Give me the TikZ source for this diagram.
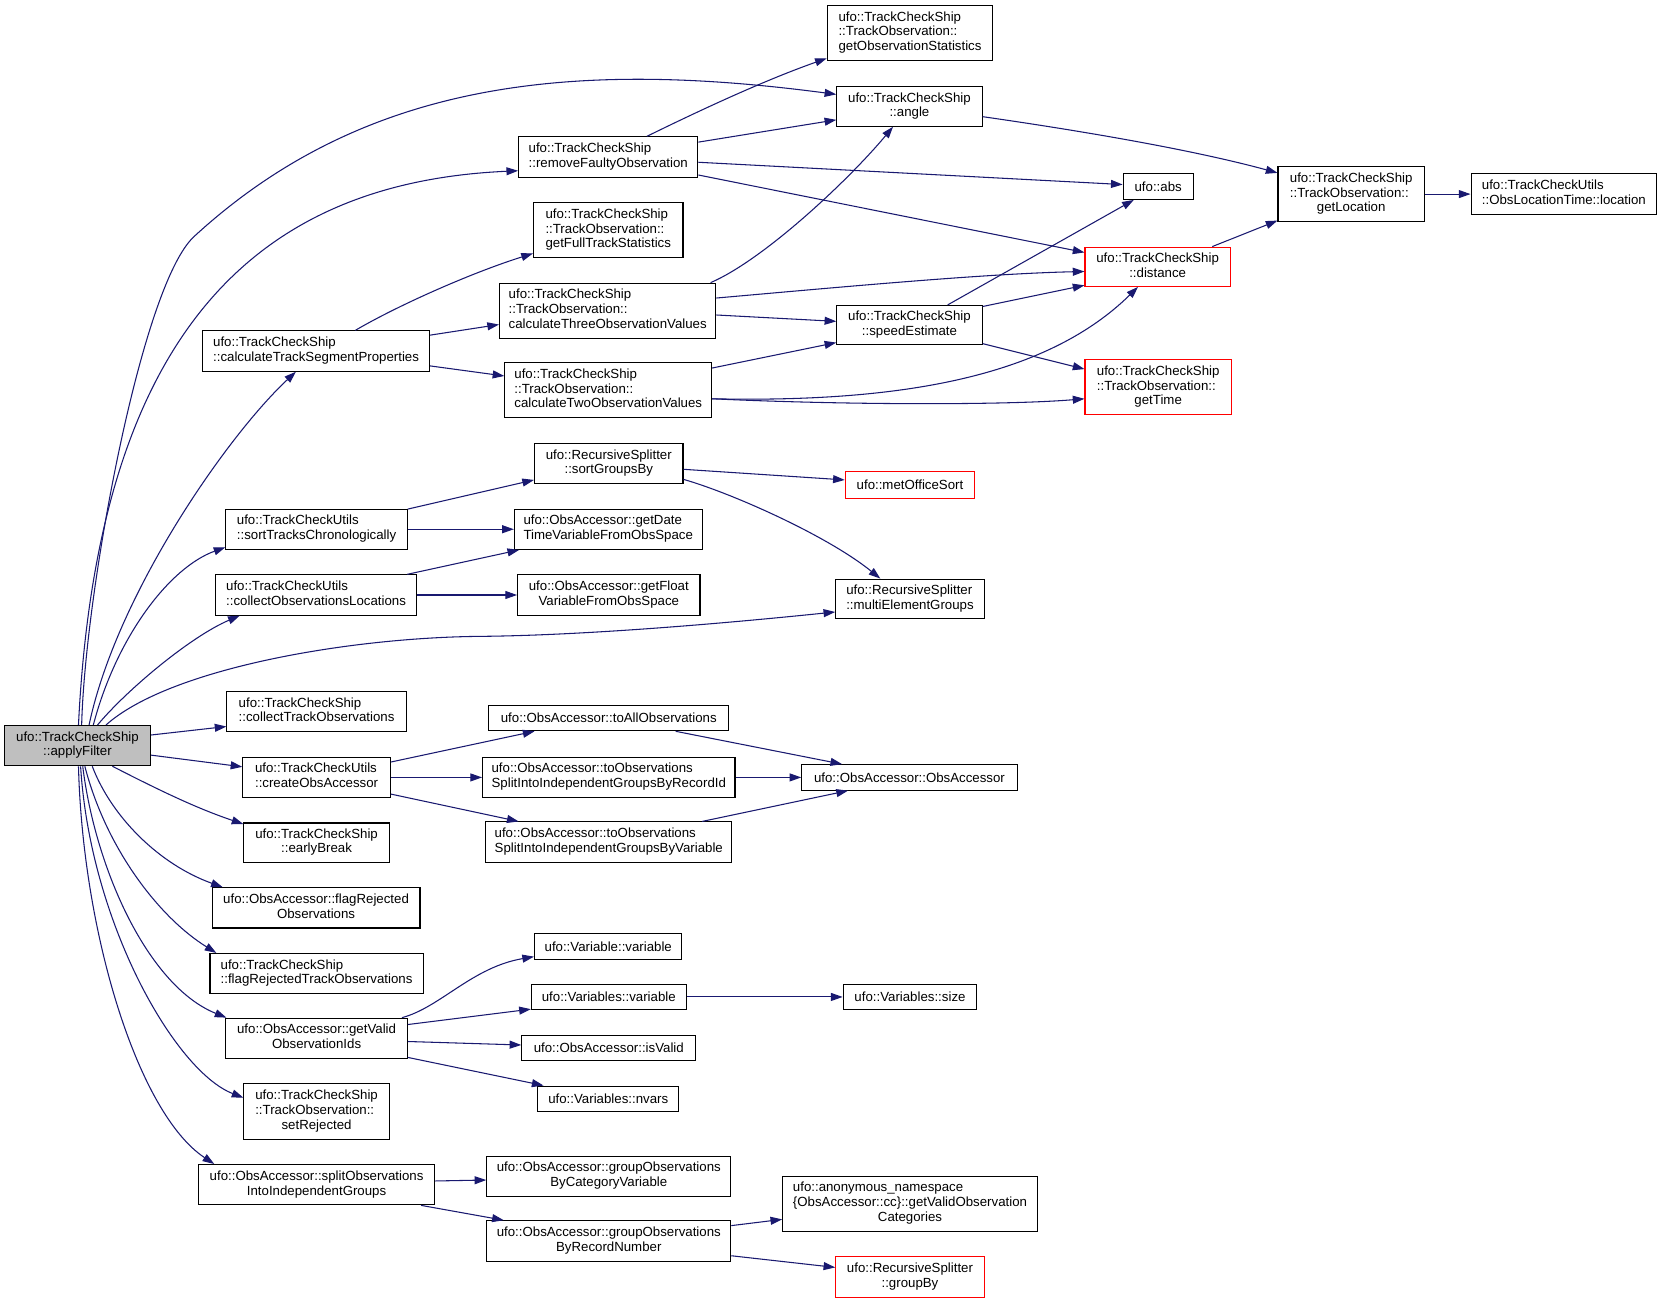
\documentclass[tikz,border=0pt]{standalone}
\usepackage{fontspec}
\setmainfont{Liberation Sans}
\usetikzlibrary{arrows.meta}
\definecolor{navyc}{RGB}{25,25,112}
\definecolor{boxgray}{RGB}{191,191,191}
\newcommand\twoL[2]{\begin{tabular}{@{}l@{}}#1\\\multicolumn{1}{@{}c@{}}{#2}\end{tabular}}
\newcommand\threeL[3]{\begin{tabular}{@{}l@{}}#1\\#2\\\multicolumn{1}{@{}c@{}}{#3}\end{tabular}}
\begin{document}
\begin{tikzpicture}[x=1pt,y=-1pt,
  fn/.style={draw=black, line width=1pt, rectangle, inner sep=0pt, fill=white, text=black, font=\fontsize{12.5}{13.9}\selectfont},
  redfn/.style={fn, draw=red},
  sz/.style 2 args={minimum width=#1pt, minimum height=#2pt},
  cl/.style={draw=navyc, line width=1pt, -{Triangle[length=11pt,width=7.5pt]}}]
\path[use as bounding box, fill=white] (0,0) rectangle (1568,1228.6);

% nodes
\node[fn,sz={138}{38},fill=boxgray] (af) at (73,703) {\twoL{ufo::TrackCheckShip}{::applyFilter}};
\node[fn,sz={156}{52}] (gos) at (858,31) {\threeL{ufo::TrackCheckShip}{::TrackObservation::}{getObservationStatistics}};
\node[fn,sz={137}{37}] (angle) at (857.5,100.5) {\twoL{ufo::TrackCheckShip}{::angle}};
\node[fn,sz={169}{38}] (rfo) at (573.5,148) {\twoL{ufo::TrackCheckShip}{::removeFaultyObservation}};
\node[fn,sz={141}{52}] (gfts) at (573.5,217) {\threeL{ufo::TrackCheckShip}{::TrackObservation::}{getFullTrackStatistics}};
\node[fn,sz={204}{52}] (c3) at (573,293) {\threeL{ufo::TrackCheckShip}{::TrackObservation::}{calculateThreeObservationValues}};
\node[fn,sz={66}{24}] (abs) at (1092,176) {ufo::abs};
\node[fn,sz={138}{52}] (gl) at (1274,183) {\threeL{ufo::TrackCheckShip}{::TrackObservation::}{getLocation}};
\node[fn,sz={175}{38}] (loc) at (1474.5,183) {\twoL{ufo::TrackCheckUtils}{::ObsLocationTime::location}};
\node[redfn,sz={137}{37}] (dist) at (1091.5,251.5) {\twoL{ufo::TrackCheckShip}{::distance}};
\node[fn,sz={214}{38}] (ctsp) at (298,331) {\twoL{ufo::TrackCheckShip}{::calculateTrackSegmentProperties}};
\node[fn,sz={195}{52}] (c2) at (573.5,368) {\threeL{ufo::TrackCheckShip}{::TrackObservation::}{calculateTwoObservationValues}};
\node[fn,sz={137}{37}] (se) at (857.5,306.5) {\twoL{ufo::TrackCheckShip}{::speedEstimate}};
\node[redfn,sz={138}{52}] (gt) at (1092,365) {\threeL{ufo::TrackCheckShip}{::TrackObservation::}{getTime}};
\node[fn,sz={140}{38}] (sgb) at (574,437) {\twoL{ufo::RecursiveSplitter}{::sortGroupsBy}};
\node[redfn,sz={122}{25}] (mos) at (858,457.5) {ufo::metOfficeSort};
\node[fn,sz={171}{38}] (stc) at (298.5,499) {\twoL{ufo::TrackCheckUtils}{::sortTracksChronologically}};
\node[fn,sz={177}{38}] (gdt) at (573.5,499) {\twoL{ufo::ObsAccessor::getDate}{TimeVariableFromObsSpace}};
\node[fn,sz={190}{38}] (col) at (298,561) {\twoL{ufo::TrackCheckUtils}{::collectObservationsLocations}};
\node[fn,sz={172}{38}] (gfv) at (574,561) {\twoL{ufo::ObsAccessor::getFloat}{VariableFromObsSpace}};
\node[fn,sz={140}{37}] (meg) at (858,564.5) {\twoL{ufo::RecursiveSplitter}{::multiElementGroups}};
\node[fn,sz={169}{38}] (cto) at (298.5,671) {\twoL{ufo::TrackCheckShip}{::collectTrackObservations}};
\node[fn,sz={139}{38}] (coa) at (298.5,733) {\twoL{ufo::TrackCheckUtils}{::createObsAccessor}};
\node[fn,sz={137}{37}] (eb) at (298.5,794.5) {\twoL{ufo::TrackCheckShip}{::earlyBreak}};
\node[fn,sz={196}{38}] (fro) at (298,856) {\twoL{ufo::ObsAccessor::flagRejected}{Observations}};
\node[fn,sz={201}{38}] (frto) at (298.5,918) {\twoL{ufo::TrackCheckShip}{::flagRejectedTrackObservations}};
\node[fn,sz={171}{38}] (gvo) at (298.5,979) {\twoL{ufo::ObsAccessor::getValid}{ObservationIds}};
\node[fn,sz={137}{52}] (sr) at (298.5,1048) {\threeL{ufo::TrackCheckShip}{::TrackObservation::}{setRejected}};
\node[fn,sz={223}{38}] (soig) at (298.5,1117) {\twoL{ufo::ObsAccessor::splitObservations}{IntoIndependentGroups}};
\node[fn,sz={226}{24}] (tao) at (574,677) {ufo::ObsAccessor::toAllObservations};
\node[fn,sz={238}{38}] (tor) at (574,733) {\twoL{ufo::ObsAccessor::toObservations}{SplitIntoIndependentGroupsByRecordId}};
\node[fn,sz={232}{38}] (tov) at (574,794) {\twoL{ufo::ObsAccessor::toObservations}{SplitIntoIndependentGroupsByVariable}};
\node[fn,sz={203}{24}] (oa) at (857.5,733) {ufo::ObsAccessor::ObsAccessor};
\node[fn,sz={139}{25}] (vv) at (573.5,892.5) {ufo::Variable::variable};
\node[fn,sz={146}{24}] (vsv) at (574,940) {ufo::Variables::variable};
\node[fn,sz={126}{24}] (vsz) at (858,940) {ufo::Variables::size};
\node[fn,sz={164}{24}] (isv) at (574,988) {ufo::ObsAccessor::isValid};
\node[fn,sz={133}{24}] (nv) at (573.5,1036) {ufo::Variables::nvars};
\node[fn,sz={230}{38}] (gocv) at (574,1109) {\twoL{ufo::ObsAccessor::groupObservations}{ByCategoryVariable}};
\node[fn,sz={230}{38}] (gorn) at (574,1170) {\twoL{ufo::ObsAccessor::groupObservations}{ByRecordNumber}};
\node[fn,sz={240}{52}] (gvoc) at (858,1135) {\threeL{ufo::anonymous\_namespace}{\{ObsAccessor::cc\}::getValidObservation}{Categories}};
\node[redfn,sz={140}{38}] (gb) at (858,1204) {\twoL{ufo::RecursiveSplitter}{::groupBy}};

% edges from applyFilter
\draw[cl] ([xshift=4pt]af.north) .. controls (80,560) and (133,269) .. (183,223) .. controls (343,76) and (539,56) .. ([yshift=11.5pt]angle.west);
\draw[cl] ([xshift=1pt]af.north) .. controls (92,315) and (240,172) .. ([yshift=-13pt]rfo.west);
\draw[cl] ([xshift=11pt]af.north) .. controls (110,560) and (215,410) .. ([xshift=-19pt]ctsp.south);
\draw[cl] ([xshift=15pt]af.north) .. controls (110,600) and (160,535) .. ([yshift=-17pt]stc.west);
\draw[cl] ([xshift=19pt]af.north) .. controls (120,650) and (180,600) .. ([xshift=-72pt]col.south);
\draw[cl] ([xshift=27pt]af.north) .. controls (160,630) and (330,601) .. (453,600) .. controls (560,599) and (700,586) .. ([yshift=-12.5pt]meg.west);
\draw[cl] ([yshift=10pt]af.east) -- ([yshift=-14pt]cto.west);
\draw[cl] ([yshift=-9pt]af.east) -- ([yshift=10pt]coa.west);
\draw[cl] ([xshift=33pt]af.south) .. controls (150,745) and (185,762) .. ([yshift=17.5pt]eb.west);
\draw[cl] ([xshift=14pt]af.south) .. controls (105,770) and (150,815) .. ([xshift=-88pt]fro.north);
\draw[cl] ([xshift=7pt]af.south) .. controls (100,800) and (150,865) .. ([xshift=-94.5pt]frto.north);
\draw[cl] ([xshift=5pt]af.south) .. controls (90,820) and (140,930) .. ([xshift=-85pt]gvo.north);
\draw[cl] ([xshift=3pt]af.south) .. controls (85,870) and (165,1010) .. ([yshift=13pt]sr.west);
\draw[cl] ([xshift=1pt]af.south) .. controls (78,880) and (130,1050) .. ([xshift=-96.5pt]soig.north);

% other edges
\draw[cl] ([xshift=37pt]ctsp.north) .. controls (375,288) and (445,257) .. ([yshift=-22pt]gfts.west);
\draw[cl] ([yshift=15pt]ctsp.east) -- ([yshift=-13pt]c3.west);
\draw[cl] ([yshift=-14pt]ctsp.east) -- ([yshift=13.5pt]c2.west);
\draw[cl] ([xshift=36.5pt]rfo.north) .. controls (660,104) and (720,76) .. ([yshift=-24pt]gos.west);
\draw[cl] ([yshift=14pt]rfo.east) -- ([yshift=-12.5pt]angle.west);
\draw[cl] ([yshift=-5pt]rfo.east) -- ([yshift=2pt]abs.west);
\draw[cl] ([yshift=-17pt]rfo.east) -- ([yshift=13.5pt]dist.west);
\draw[cl] ([xshift=97pt]c3.north) .. controls (720,245) and (800,170) .. ([xshift=-15.5pt]angle.south);
\draw[cl] ([yshift=12pt]c3.east) .. controls (800,270) and (930,258) .. ([yshift=-4.5pt]dist.west);
\draw[cl] ([yshift=-4pt]c3.east) -- ([yshift=3.5pt]se.west);
\draw[cl] ([yshift=21pt]c2.east) -- ([yshift=-16.5pt]se.west);
\draw[cl] ([yshift=-8pt]c2.east) .. controls (860,380) and (990,352) .. ([xshift=-18.5pt]dist.south);
\draw[cl] ([yshift=-8pt]c2.east) .. controls (800,382) and (950,382) .. ([yshift=-11pt]gt.west);
\draw[cl] ([xshift=36pt]se.north) -- ([xshift=-23pt]abs.south);
\draw[cl] ([yshift=17.5pt]se.east) -- ([yshift=-17.5pt]dist.west);
\draw[cl] ([yshift=-17.5pt]se.east) -- ([yshift=17pt]gt.west);
\draw[cl] ([yshift=-9.5pt]angle.east) .. controls (1010,122) and (1120,140) .. ([yshift=20pt]gl.west);
\draw[cl] ([xshift=51.5pt]dist.north) -- ([yshift=-25pt]gl.west);
\draw[cl] (gl.east) -- (loc.west);
\draw[cl] ([yshift=19pt]stc.east) -- ([yshift=-15.5pt]sgb.west);
\draw[cl] (stc.east) -- (gdt.west);
\draw[cl] ([xshift=86pt]col.north) -- ([xshift=-84pt]gdt.south);
\draw[cl] (col.east) -- (gfv.west);
\draw[cl] ([yshift=-5.5pt]sgb.east) -- ([yshift=5pt]mos.west);
\draw[cl] ([yshift=-15pt]sgb.east) .. controls (690,465) and (780,505) .. ([xshift=-28pt]meg.north);
\draw[cl] ([yshift=14.5pt]coa.east) -- ([xshift=-70pt]tao.south);
\draw[cl] (coa.east) -- (tor.west);
\draw[cl] ([yshift=-15.7pt]coa.east) -- ([xshift=-85pt]tov.north);
\draw[cl] ([xshift=63pt]tao.south) -- ([xshift=-63.5pt]oa.north);
\draw[cl] (tor.east) -- (oa.west);
\draw[cl] ([xshift=88pt]tov.north) -- ([xshift=-58pt]oa.south);
\draw[cl] ([xshift=80.5pt]gvo.north) .. controls (415,950) and (445,912) .. ([yshift=-9.5pt]vv.west);
\draw[cl] ([yshift=13pt]gvo.east) -- ([yshift=-11.5pt]vsv.west);
\draw[cl] ([yshift=-3pt]gvo.east) -- ([yshift=2.7pt]isv.west);
\draw[cl] ([yshift=-18pt]gvo.east) -- ([xshift=-61pt]nv.north);
\draw[cl] (vsv.east) -- (vsz.west);
\draw[cl] ([yshift=3.5pt]soig.east) -- ([yshift=-3.6pt]gocv.west);
\draw[cl] ([xshift=98.5pt]soig.south) -- ([xshift=-99pt]gorn.north);
\draw[cl] ([yshift=14.4pt]gorn.east) -- ([yshift=-14.7pt]gvoc.west);
\draw[cl] ([yshift=-14pt]gorn.east) -- ([yshift=9pt]gb.west);
\end{tikzpicture}
\end{document}
